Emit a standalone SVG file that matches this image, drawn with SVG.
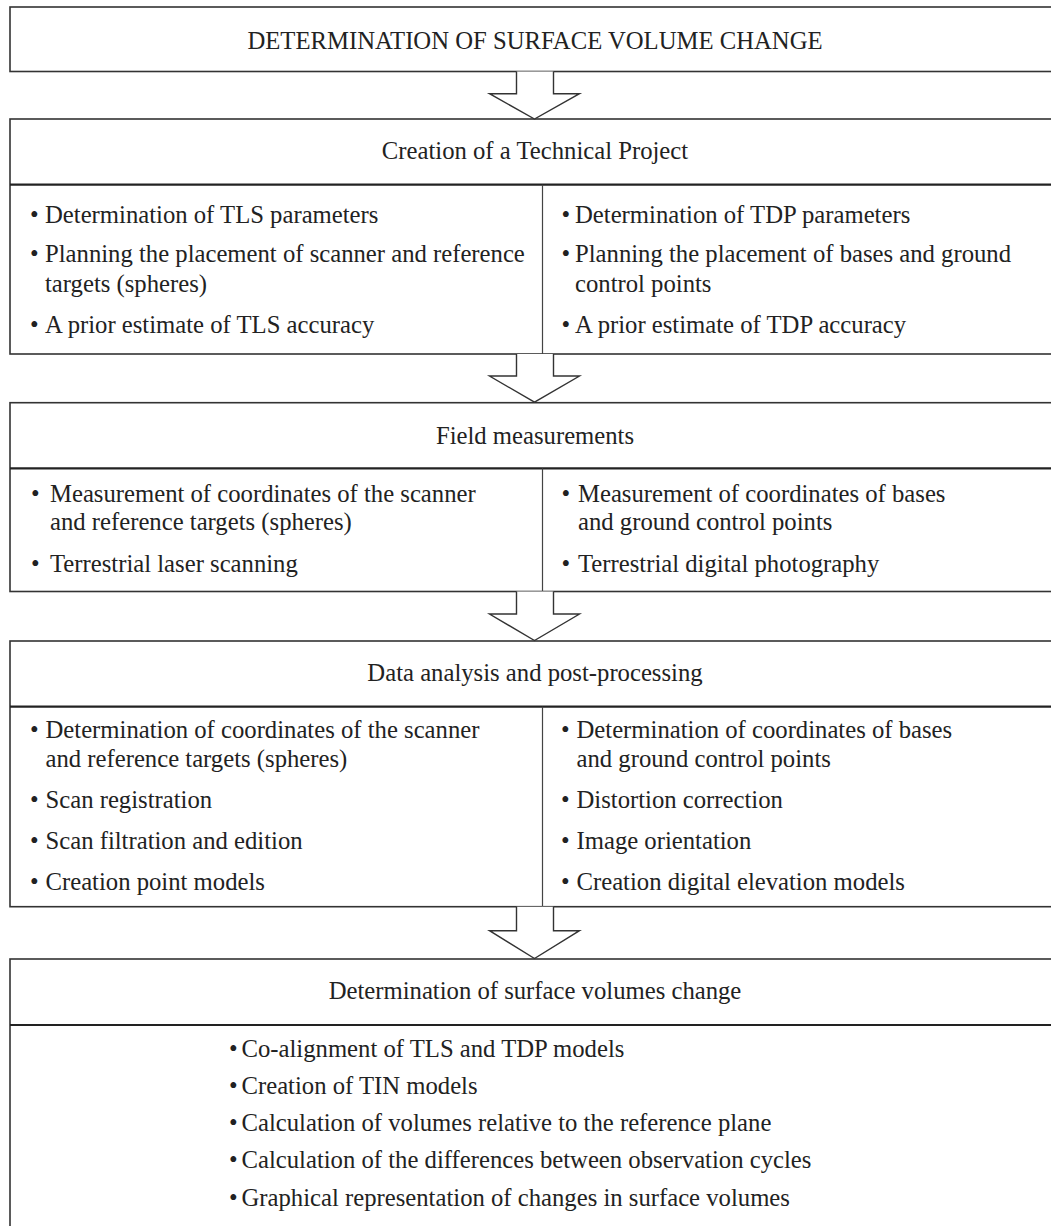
<svg xmlns="http://www.w3.org/2000/svg" width="1051" height="1226" viewBox="0 0 1051 1226">
<style>
.box{fill:#fff;stroke:#333;stroke-width:1.6}
.hd{stroke:#222;stroke-width:2.2}
.col{stroke:#444;stroke-width:1.2}
.t{font-family:"Liberation Serif","Times New Roman",serif;font-size:24.7px;fill:#222}
.c{text-anchor:middle}
.arrow{fill:#fff;stroke:#333;stroke-width:1.4}
</style>
<rect width="1051" height="1226" fill="#fff"/>
<g id="node-title">
<rect class="box" x="10" y="7" width="1060" height="64.5"/>
<text class="t c" x="535" y="49">DETERMINATION OF SURFACE VOLUME CHANGE</text>
</g>
<g id="node-project">
<rect class="box" x="10" y="119" width="1060" height="235"/>
<line class="hd" x1="10" y1="184.7" x2="1060" y2="184.7"/>
<line class="col" x1="542.5" y1="184.7" x2="542.5" y2="354"/>
<text class="t c" x="535" y="159">Creation of a Technical Project</text>
<text class="t"><tspan x="30" y="222.5">•</tspan><tspan x="45" y="222.5">Determination of TLS parameters</tspan></text>
<text class="t"><tspan x="30" y="262">•</tspan><tspan x="45" y="262">Planning the placement of scanner and reference</tspan><tspan x="45" y="291.5">targets (spheres)</tspan></text>
<text class="t"><tspan x="30" y="332.5">•</tspan><tspan x="45" y="332.5">A prior estimate of TLS accuracy</tspan></text>
<text class="t"><tspan x="561.5" y="222.5">•</tspan><tspan x="575" y="222.5">Determination of TDP parameters</tspan></text>
<text class="t"><tspan x="561.5" y="262">•</tspan><tspan x="575" y="262">Planning the placement of bases and ground</tspan><tspan x="575" y="291.5">control points</tspan></text>
<text class="t"><tspan x="561.5" y="332.5">•</tspan><tspan x="575" y="332.5">A prior estimate of TDP accuracy</tspan></text>
</g>
<g id="node-field">
<rect class="box" x="10" y="402.7" width="1060" height="188.8"/>
<line class="hd" x1="10" y1="468.3" x2="1060" y2="468.3"/>
<line class="col" x1="542.5" y1="468.3" x2="542.5" y2="591.5"/>
<text class="t c" x="535" y="444">Field measurements</text>
<text class="t"><tspan x="31" y="501.5">•</tspan><tspan x="50" y="501.5">Measurement of coordinates of the scanner</tspan><tspan x="50" y="530">and reference targets (spheres)</tspan></text>
<text class="t"><tspan x="31" y="571.5">•</tspan><tspan x="50" y="571.5">Terrestrial laser scanning</tspan></text>
<text class="t"><tspan x="561.5" y="501.5">•</tspan><tspan x="578" y="501.5">Measurement of coordinates of bases</tspan><tspan x="578" y="530">and ground control points</tspan></text>
<text class="t"><tspan x="561.5" y="571.5">•</tspan><tspan x="578" y="571.5">Terrestrial digital photography</tspan></text>
</g>
<g id="node-analysis">
<rect class="box" x="10" y="641" width="1060" height="265.7"/>
<line class="hd" x1="10" y1="706.7" x2="1060" y2="706.7"/>
<line class="col" x1="542.5" y1="706.7" x2="542.5" y2="906.7"/>
<text class="t c" x="535" y="680.5">Data analysis and post-processing</text>
<text class="t"><tspan x="30" y="738">•</tspan><tspan x="45.5" y="738">Determination of coordinates of the scanner</tspan><tspan x="45.5" y="767">and reference targets (spheres)</tspan></text>
<text class="t"><tspan x="30" y="808">•</tspan><tspan x="45.5" y="808">Scan registration</tspan></text>
<text class="t"><tspan x="30" y="849">•</tspan><tspan x="45.5" y="849">Scan filtration and edition</tspan></text>
<text class="t"><tspan x="30" y="890">•</tspan><tspan x="45.5" y="890">Creation point models</tspan></text>
<text class="t"><tspan x="561" y="738">•</tspan><tspan x="576.5" y="738">Determination of coordinates of bases</tspan><tspan x="576.5" y="767">and ground control points</tspan></text>
<text class="t"><tspan x="561" y="808">•</tspan><tspan x="576.5" y="808">Distortion correction</tspan></text>
<text class="t"><tspan x="561" y="849">•</tspan><tspan x="576.5" y="849">Image orientation</tspan></text>
<text class="t"><tspan x="561" y="890">•</tspan><tspan x="576.5" y="890">Creation digital elevation models</tspan></text>
</g>
<g id="node-volumes">
<rect class="box" x="10" y="959" width="1060" height="290"/>
<line class="hd" x1="10" y1="1025" x2="1060" y2="1025"/>
<text class="t c" x="535" y="998.5">Determination of surface volumes change</text>
<text class="t"><tspan x="229" y="1056.5">•</tspan><tspan x="241.5" y="1056.5">Co-alignment of TLS and TDP models</tspan></text>
<text class="t"><tspan x="229" y="1094">•</tspan><tspan x="241.5" y="1094">Creation of TIN models</tspan></text>
<text class="t"><tspan x="229" y="1131">•</tspan><tspan x="241.5" y="1131">Calculation of volumes relative to the reference plane</tspan></text>
<text class="t"><tspan x="229" y="1168">•</tspan><tspan x="241.5" y="1168">Calculation of the differences between observation cycles</tspan></text>
<text class="t"><tspan x="229" y="1205.5">•</tspan><tspan x="241.5" y="1205.5">Graphical representation of changes in surface volumes</tspan></text>
</g>
<g id="connectors">
<path class="arrow" d="M516.5,71.5 V93.7 H489.5 L534.5,119 L579.5,93.7 H553.5 V71.5"/>
<path class="arrow" d="M516.5,354 V376 H489.5 L534.5,402.2 L579.5,376 H553.5 V354"/>
<path class="arrow" d="M516.5,591.5 V614 H489.5 L534.5,640.5 L579.5,614 H553.5 V591.5"/>
<path class="arrow" d="M516.5,906.7 V930.7 H489.5 L534.5,958.5 L579.5,930.7 H553.5 V906.7"/>
</g>
</svg>
